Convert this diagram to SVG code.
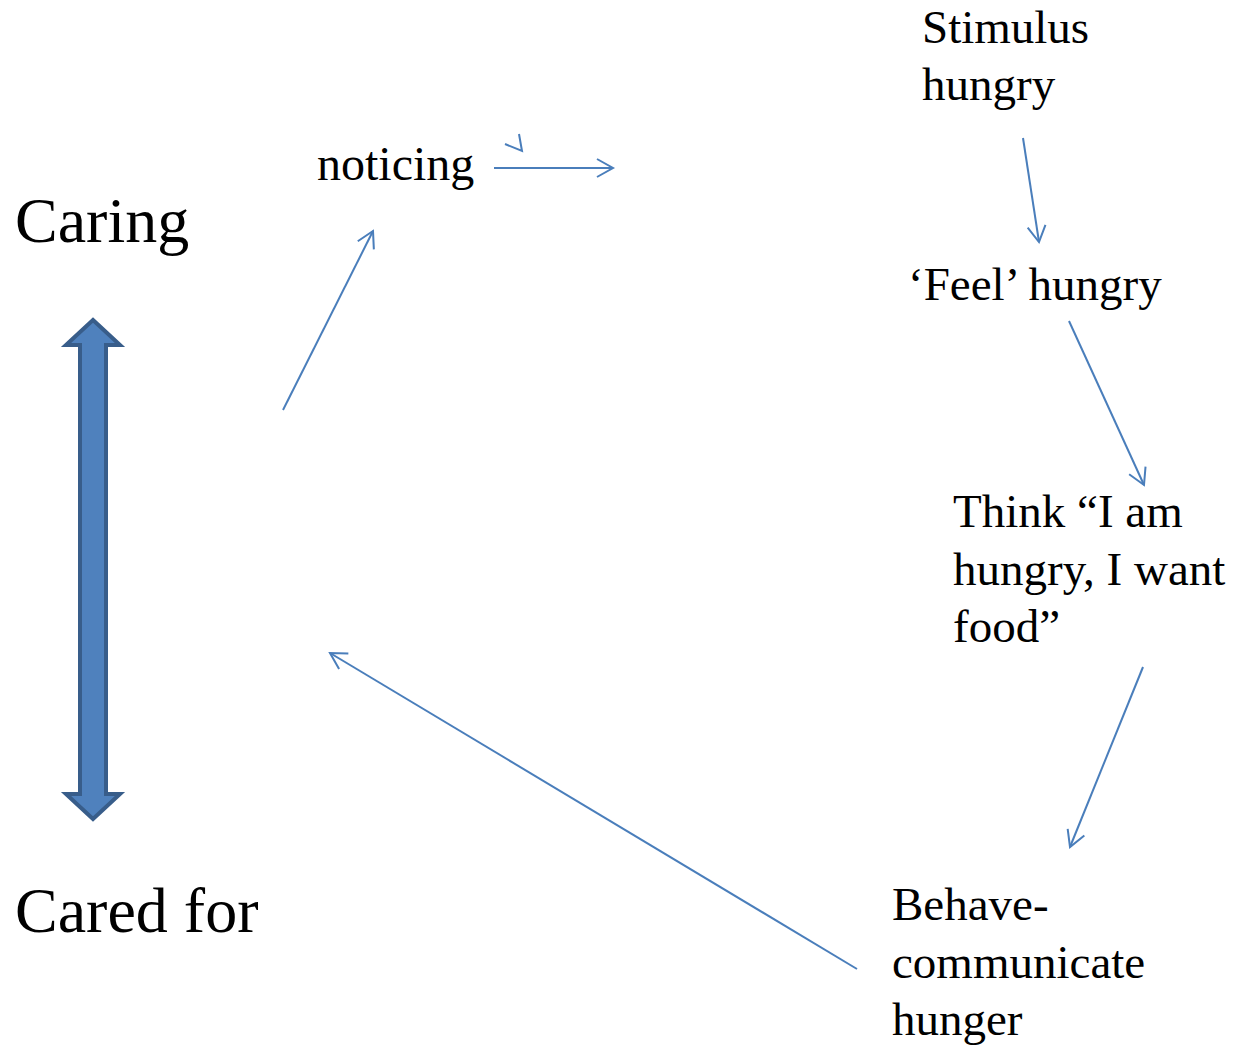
<svg xmlns="http://www.w3.org/2000/svg" width="1240" height="1047" viewBox="0 0 1240 1047">
<defs>
<style>
.t{font-family:"Liberation Serif","Times New Roman",serif;fill:#000}
.big{font-size:64px}
.mid{font-size:47px}
.c{stroke:#4A7EBB;stroke-width:2;fill:none}
</style>
<marker id="ah" markerUnits="userSpaceOnUse" markerWidth="40" markerHeight="40" viewBox="-20 -20 40 40" refX="0" refY="0" orient="auto">
<path d="M-16,-9 L0,0 L-16,9" fill="none" stroke="#4A7EBB" stroke-width="2"/>
</marker>
</defs>
<rect width="1240" height="1047" fill="#fff"/>
<g id="caring"><text class="t big" x="15" y="242">Caring</text></g>
<g id="cared-for"><text class="t big" x="15" y="932">Cared for</text></g>
<g id="double-arrow">
<polygon points="93,320 120,345 106,345 106,794 120,794 93,819 66,794 80,794 80,345 66,345" fill="#4F81BD" stroke="#385D8A" stroke-width="4" stroke-linejoin="miter"/>
</g>
<g id="noticing"><text class="t mid" x="317" y="180" style="font-size:48px">noticing</text></g>
<g id="stimulus"><text class="t mid" x="922" y="43">Stimulus</text><text class="t mid" x="922" y="100">hungry</text></g>
<g id="feel"><text class="t mid" x="908" y="300">‘Feel’ hungry</text></g>
<g id="think"><text class="t mid" x="953" y="527">Think “I am</text><text class="t mid" x="953" y="585">hungry, I want</text><text class="t mid" x="953" y="642">food”</text></g>
<g id="behave"><text class="t mid" x="892" y="920">Behave-</text><text class="t mid" x="892" y="978">communicate</text><text class="t mid" x="892" y="1035">hunger</text></g>
<g id="connectors">
<line class="c" x1="283" y1="410" x2="373" y2="231" marker-end="url(#ah)"/>
<line class="c" x1="494" y1="168" x2="613" y2="168" marker-end="url(#ah)"/>
<path class="c" d="M505,144 L522,151 L519,134"/>
<line class="c" x1="1023" y1="138" x2="1039" y2="242" marker-end="url(#ah)"/>
<line class="c" x1="1069" y1="321" x2="1144" y2="485" marker-end="url(#ah)"/>
<line class="c" x1="1143" y1="667" x2="1070" y2="847" marker-end="url(#ah)"/>
<line class="c" x1="857" y1="969" x2="330" y2="653" marker-end="url(#ah)"/>
</g>
</svg>
